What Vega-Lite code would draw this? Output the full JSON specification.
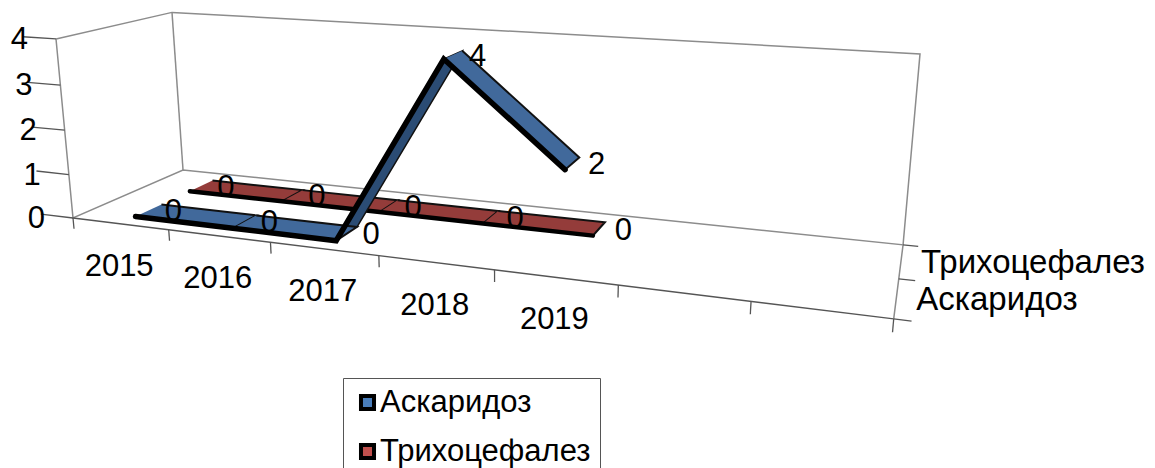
{
"$schema":"https://vega.github.io/schema/vega-lite/v6.json",
"width":1155,"height":468,"autosize":{"type":"none"},"padding":0,"background":"white",
"config":{"view":{"stroke":null},"text":{"font":"Liberation Sans"},"font":"Liberation Sans"},
"datasets":{
"series":[
{"series":"Аскаридоз","year":2015,"value":0},{"series":"Аскаридоз","year":2016,"value":0},{"series":"Аскаридоз","year":2017,"value":0},{"series":"Аскаридоз","year":2018,"value":4},{"series":"Аскаридоз","year":2019,"value":2},
{"series":"Трихоцефалез","year":2015,"value":0},{"series":"Трихоцефалез","year":2016,"value":0},{"series":"Трихоцефалез","year":2017,"value":0},{"series":"Трихоцефалез","year":2018,"value":0},{"series":"Трихоцефалез","year":2019,"value":0}],
"frame":[
{"edge":"a","n":0,"pi":0,"pd":0,"pv":4},{"edge":"a","n":1,"pi":0,"pd":0,"pv":0},{"edge":"a","n":2,"pi":0,"pd":1,"pv":0},{"edge":"a","n":3,"pi":7,"pd":1,"pv":0},{"edge":"a","n":4,"pi":7,"pd":0,"pv":0},
{"edge":"b","n":0,"pi":0,"pd":0,"pv":4},{"edge":"b","n":1,"pi":0,"pd":1,"pv":4},{"edge":"b","n":2,"pi":7,"pd":1,"pv":4},{"edge":"b","n":3,"pi":7,"pd":1,"pv":0},
{"edge":"c","n":0,"pi":0,"pd":1,"pv":4},{"edge":"c","n":1,"pi":0,"pd":1,"pv":0}],
"dark":[
{"edge":"f","n":0,"pi":0,"pd":0,"pv":0},{"edge":"f","n":1,"pi":7,"pd":0,"pv":0},
{"edge":"y0","n":0,"pi":0,"pd":0,"pv":0},{"edge":"y0","n":1,"pi":-0.35,"pd":0,"pv":0},
{"edge":"y1","n":0,"pi":0,"pd":0,"pv":1},{"edge":"y1","n":1,"pi":-0.35,"pd":0,"pv":1},
{"edge":"y2","n":0,"pi":0,"pd":0,"pv":2},{"edge":"y2","n":1,"pi":-0.35,"pd":0,"pv":2},
{"edge":"y3","n":0,"pi":0,"pd":0,"pv":3},{"edge":"y3","n":1,"pi":-0.35,"pd":0,"pv":3},
{"edge":"y4","n":0,"pi":0,"pd":0,"pv":4},{"edge":"y4","n":1,"pi":-0.35,"pd":0,"pv":4},
{"edge":"x0","n":0,"pi":0,"pd":0,"pv":0},{"edge":"x0","n":1,"pi":0,"pd":0,"pv":-0.25},
{"edge":"x1","n":0,"pi":1,"pd":0,"pv":0},{"edge":"x1","n":1,"pi":1,"pd":0,"pv":-0.25},
{"edge":"x2","n":0,"pi":2,"pd":0,"pv":0},{"edge":"x2","n":1,"pi":2,"pd":0,"pv":-0.25},
{"edge":"x3","n":0,"pi":3,"pd":0,"pv":0},{"edge":"x3","n":1,"pi":3,"pd":0,"pv":-0.25},
{"edge":"x4","n":0,"pi":4,"pd":0,"pv":0},{"edge":"x4","n":1,"pi":4,"pd":0,"pv":-0.25},
{"edge":"x5","n":0,"pi":5,"pd":0,"pv":0},{"edge":"x5","n":1,"pi":5,"pd":0,"pv":-0.25},
{"edge":"x6","n":0,"pi":6,"pd":0,"pv":0},{"edge":"x6","n":1,"pi":6,"pd":0,"pv":-0.25},
{"edge":"x7","n":0,"pi":7,"pd":0,"pv":0},{"edge":"x7","n":1,"pi":7,"pd":0,"pv":-0.25},
{"edge":"z0","n":0,"pi":7,"pd":0,"pv":0},{"edge":"z0","n":1,"pi":7.12,"pd":0,"pv":0},
{"edge":"z1","n":0,"pi":7,"pd":0.5,"pv":0},{"edge":"z1","n":1,"pi":7.12,"pd":0.5,"pv":0},
{"edge":"z2","n":0,"pi":7,"pd":1,"pv":0},{"edge":"z2","n":1,"pi":7.12,"pd":1,"pv":0}],
"yLabels":[{"label":"0","pi":0,"pd":0,"pv":0},{"label":"1","pi":0,"pd":0,"pv":1},{"label":"2","pi":0,"pd":0,"pv":2},{"label":"3","pi":0,"pd":0,"pv":3},{"label":"4","pi":0,"pd":0,"pv":4}],
"xLabels":[{"label":"2015","pi":0.5,"pd":0,"pv":0},{"label":"2016","pi":1.5,"pd":0,"pv":0},{"label":"2017","pi":2.5,"pd":0,"pv":0},{"label":"2018","pi":3.5,"pd":0,"pv":0},{"label":"2019","pi":4.5,"pd":0,"pv":0}],
"zLabels":[{"label":"Аскаридоз","pi":7,"pd":0.25,"pv":0},{"label":"Трихоцефалез","pi":7,"pd":0.75,"pv":0}]
},
"encoding":{
"x":{"field":"px","type":"quantitative","scale":{"domain":[0,1155],"range":[0,1155]},"axis":null},
"y":{"field":"py","type":"quantitative","scale":{"domain":[0,468],"range":[0,468]},"axis":null}},
"layer":[
{"data":{"name":"frame"},
"transform":[{"calculate":"1-0.0297*datum.pi+0.1425*datum.pd-0.0095*datum.pv","as":"w"},{"calculate":"(73+90.7*datum.pi+136.1*datum.pd-4.78*datum.pv)/datum.w","as":"px"},{"calculate":"(218+4.95*datum.pi-23.8*datum.pd-45.13*datum.pv)/datum.w","as":"py"}],
"mark":{"type":"line","stroke":"#8c8c8c","strokeWidth":1.5},
"encoding":{"detail":{"field":"edge"},"order":{"field":"n"}}},
{"data":{"name":"dark"},
"transform":[{"calculate":"1-0.0297*datum.pi+0.1425*datum.pd-0.0095*datum.pv","as":"w"},{"calculate":"(73+90.7*datum.pi+136.1*datum.pd-4.78*datum.pv)/datum.w","as":"px"},{"calculate":"(218+4.95*datum.pi-23.8*datum.pd-45.13*datum.pv)/datum.w","as":"py"}],
"mark":{"type":"line","stroke":"#555555","strokeWidth":1.3},
"encoding":{"detail":{"field":"edge"},"order":{"field":"n"}}},
{"data":{"name":"series"},
"transform":[{"filter":"datum.series=='Трихоцефалез'"},{"calculate":"datum.year-2014.5","as":"i"},{"calculate":"0.75","as":"dc"},
{"window":[{"op":"lead","field":"i","as":"i2"},{"op":"lead","field":"value","as":"v2"}],"groupby":["series"],"sort":[{"field":"year"}]},{"filter":"datum.i2!=null"},
{"calculate":"[0,1,2,3]","as":"corner"},{"flatten":["corner"]},
{"calculate":"datum.corner==0||datum.corner==3?datum.i:datum.i2","as":"pi"},{"calculate":"datum.corner==0||datum.corner==3?datum.value:datum.v2","as":"pv"},{"calculate":"datum.corner<2?datum.dc-0.12:datum.dc+0.11","as":"pd"},
{"calculate":"1-0.0297*datum.pi+0.1425*datum.pd-0.0095*datum.pv","as":"w"},{"calculate":"(73+90.7*datum.pi+136.1*datum.pd-4.78*datum.pv)/datum.w","as":"px"},{"calculate":"(218+4.95*datum.pi-23.8*datum.pd-45.13*datum.pv)/datum.w","as":"py"}],
"mark":{"type":"line","fill":"#943c3a","stroke":"#111111","strokeWidth":2,"strokeJoin":"miter"},
"encoding":{"detail":{"field":"year"},"order":{"field":"corner"}}},
{"data":{"name":"series"},
"transform":[{"filter":"datum.series=='Трихоцефалез'"},{"calculate":"datum.year-2014.5","as":"pi"},{"calculate":"datum.value","as":"pv"},{"calculate":"0.63","as":"pd"},
{"calculate":"1-0.0297*datum.pi+0.1425*datum.pd-0.0095*datum.pv","as":"w"},{"calculate":"(73+90.7*datum.pi+136.1*datum.pd-4.78*datum.pv)/datum.w","as":"px"},{"calculate":"(218+4.95*datum.pi-23.8*datum.pd-45.13*datum.pv)/datum.w","as":"py"}],
"mark":{"type":"line","stroke":"#000000","strokeWidth":4.5,"strokeCap":"round"},
"encoding":{"order":{"field":"year"}}},
{"data":{"name":"series"},
"transform":[{"filter":"datum.series=='Аскаридоз'"},{"calculate":"datum.year-2014.5","as":"i"},{"calculate":"0.25","as":"dc"},
{"window":[{"op":"lead","field":"i","as":"i2"},{"op":"lead","field":"value","as":"v2"}],"groupby":["series"],"sort":[{"field":"year"}]},{"filter":"datum.i2!=null&&datum.v2>datum.value"},
{"calculate":"[0,1,2,3]","as":"corner"},{"flatten":["corner"]},
{"calculate":"datum.corner==0||datum.corner==3?datum.i:datum.i2","as":"pi"},{"calculate":"datum.corner==0||datum.corner==3?datum.value:datum.v2","as":"pv"},{"calculate":"datum.corner<2?datum.dc-0.12:datum.dc+0.11","as":"pd"},
{"calculate":"1-0.0297*datum.pi+0.1425*datum.pd-0.0095*datum.pv","as":"w"},{"calculate":"(73+90.7*datum.pi+136.1*datum.pd-4.78*datum.pv)/datum.w","as":"px"},{"calculate":"(218+4.95*datum.pi-23.8*datum.pd-45.13*datum.pv)/datum.w","as":"py"}],
"mark":{"type":"line","fill":"#2b4c74","stroke":"#111111","strokeWidth":1.5,"strokeJoin":"miter"},
"encoding":{"detail":{"field":"year"},"order":{"field":"corner"}}},
{"data":{"name":"series"},
"transform":[{"filter":"datum.series=='Аскаридоз'"},{"calculate":"datum.year-2014.5","as":"i"},{"calculate":"0.25","as":"dc"},
{"window":[{"op":"lead","field":"i","as":"i2"},{"op":"lead","field":"value","as":"v2"}],"groupby":["series"],"sort":[{"field":"year"}]},{"filter":"datum.i2!=null&&datum.v2<=datum.value"},
{"calculate":"[0,1,2,3]","as":"corner"},{"flatten":["corner"]},
{"calculate":"datum.corner==0||datum.corner==3?datum.i:datum.i2","as":"pi"},{"calculate":"datum.corner==0||datum.corner==3?datum.value:datum.v2","as":"pv"},{"calculate":"datum.corner<2?datum.dc-0.12:datum.dc+0.11","as":"pd"},
{"calculate":"1-0.0297*datum.pi+0.1425*datum.pd-0.0095*datum.pv","as":"w"},{"calculate":"(73+90.7*datum.pi+136.1*datum.pd-4.78*datum.pv)/datum.w","as":"px"},{"calculate":"(218+4.95*datum.pi-23.8*datum.pd-45.13*datum.pv)/datum.w","as":"py"}],
"mark":{"type":"line","fill":"#41699b","stroke":"#111111","strokeWidth":2,"strokeJoin":"miter"},
"encoding":{"detail":{"field":"year"},"order":{"field":"corner"}}},
{"data":{"name":"series"},
"transform":[{"filter":"datum.series=='Аскаридоз'"},{"calculate":"datum.year-2014.5","as":"pi"},{"calculate":"datum.value","as":"pv"},{"calculate":"0.13","as":"pd"},
{"calculate":"1-0.0297*datum.pi+0.1425*datum.pd-0.0095*datum.pv","as":"w"},{"calculate":"(73+90.7*datum.pi+136.1*datum.pd-4.78*datum.pv)/datum.w","as":"px"},{"calculate":"(218+4.95*datum.pi-23.8*datum.pd-45.13*datum.pv)/datum.w","as":"py"}],
"mark":{"type":"line","stroke":"#000000","strokeWidth":5.5,"strokeCap":"round"},
"encoding":{"order":{"field":"year"}}},
{"data":{"name":"series"},
"transform":[{"calculate":"datum.year-2014.5","as":"pi"},{"calculate":"datum.value","as":"pv"},{"calculate":"datum.series=='Аскаридоз'?0.25:0.75","as":"pd"},
{"calculate":"1-0.0297*datum.pi+0.1425*datum.pd-0.0095*datum.pv","as":"w"},{"calculate":"(73+90.7*datum.pi+136.1*datum.pd-4.78*datum.pv)/datum.w","as":"px"},{"calculate":"(218+4.95*datum.pi-23.8*datum.pd-45.13*datum.pv)/datum.w","as":"py"}],
"mark":{"type":"text","fontSize":31,"dx":24,"dy":2,"align":"center","baseline":"middle","fill":"#000000"},
"encoding":{"text":{"field":"value","type":"quantitative"}}},
{"data":{"name":"yLabels"},
"transform":[{"calculate":"1-0.0297*datum.pi+0.1425*datum.pd-0.0095*datum.pv","as":"w"},{"calculate":"(73+90.7*datum.pi+136.1*datum.pd-4.78*datum.pv)/datum.w","as":"px"},{"calculate":"(218+4.95*datum.pi-23.8*datum.pd-45.13*datum.pv)/datum.w","as":"py"}],
"mark":{"type":"text","fontSize":31,"dx":-28,"dy":1,"align":"right","baseline":"middle","fill":"#000000"},
"encoding":{"text":{"field":"label","type":"nominal"}}},
{"data":{"name":"xLabels"},
"transform":[{"calculate":"1-0.0297*datum.pi+0.1425*datum.pd-0.0095*datum.pv","as":"w"},{"calculate":"(73+90.7*datum.pi+136.1*datum.pd-4.78*datum.pv)/datum.w","as":"px"},{"calculate":"(218+4.95*datum.pi-23.8*datum.pd-45.13*datum.pv)/datum.w","as":"py"}],
"mark":{"type":"text","fontSize":31,"dx":-1,"dy":43,"align":"center","baseline":"middle","fill":"#000000"},
"encoding":{"text":{"field":"label","type":"nominal"}}},
{"data":{"name":"zLabels"},
"transform":[{"calculate":"1-0.0297*datum.pi+0.1425*datum.pd-0.0095*datum.pv","as":"w"},{"calculate":"(73+90.7*datum.pi+136.1*datum.pd-4.78*datum.pv)/datum.w","as":"px"},{"calculate":"(218+4.95*datum.pi-23.8*datum.pd-45.13*datum.pv)/datum.w","as":"py"}],
"mark":{"type":"text","fontSize":33,"dx":20,"dy":2,"align":"left","baseline":"middle","fill":"#000000"},
"encoding":{"text":{"field":"label","type":"nominal"}}},
{"data":{"name":"series"},
"transform":[{"calculate":"200","as":"px"},{"calculate":"200","as":"py"}],
"mark":{"type":"point","shape":"square","filled":true,"opacity":0,"size":1},
"encoding":{"color":{"field":"series","type":"nominal","scale":{"domain":["Аскаридоз","Трихоцефалез"],"range":["#4a7ebb","#c0504d"]},
"legend":{"title":null,"orient":"none","legendX":343,"legendY":378,"padding":9,"fillColor":"#ffffff","strokeColor":"#555555","symbolType":"square","symbolSize":170,"symbolOpacity":1,"symbolStrokeColor":"#000000","symbolStrokeWidth":4,"labelFont":"Liberation Sans","labelFontSize":31,"labelColor":"#000000","labelOffset":-3,"rowPadding":17,"labelLimit":400}}}}
]
}
